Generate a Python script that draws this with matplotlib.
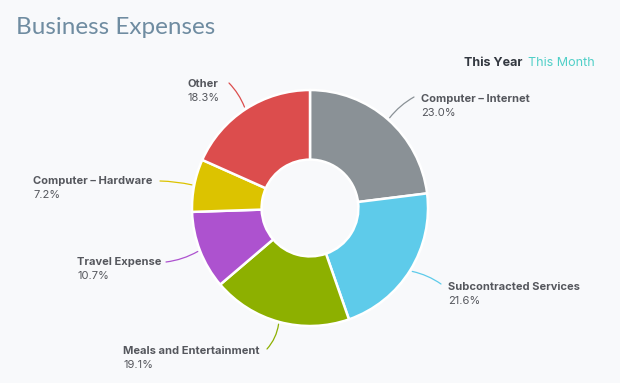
import numpy as np
import matplotlib
matplotlib.use("Agg")
import matplotlib.pyplot as plt

categories = ["Computer – Internet", "Subcontracted Services", "Meals and Entertainment",
              "Travel Expense", "Computer – Hardware", "Other"]
values = [23.0, 21.6, 19.1, 10.7, 7.2, 18.3]
colors = ["#8a9196", "#5ecbea", "#8db000", "#ad52cf", "#dcc300", "#dc4d4d"]
# label text anchor (left x, name-line y) in pixel layout, and leader curvature
label_pos = [(421, 99), (448, 287), (123, 351), (77, 262), (33, 181), (188, 84)]
line_end = [(414, 97), (441, 284), (267, 349), (166, 262), (160, 181), (229, 83)]
line_rad = [0.1, 0.1, 0.15, 0.1, -0.05, -0.1]

W, H = 620, 383
BG = "#f8f9fb"
fig = plt.figure(figsize=(W / 100, H / 100), dpi=100, facecolor=BG)

def fx(x, y):
    return (x / W, 1 - y / H)

cx, cy, R = 310, 208, 118
ax = fig.add_axes([(cx - R) / W, (H - cy - R) / H, 2 * R / W, 2 * R / H])
ax.set_facecolor(BG)

wedges, _ = ax.pie(values, colors=colors, startangle=90, counterclock=False, radius=1,
                   wedgeprops=dict(width=0.59, edgecolor="white", linewidth=1.8))
ax.set_xlim(-1, 1)
ax.set_ylim(-1, 1)
ax.set_aspect("equal")
ax.axis("off")

fig.text(*fx(16, 28), "Business Expenses", fontsize=17.5, color="#6f8ca1",
         family="Lato", va="center", ha="left")
fig.text(*fx(464, 63), "This Year", fontsize=9, color="#333840", fontweight="bold",
         family="Inter", va="center", ha="left")
fig.text(*fx(528, 63), "This Month", fontsize=9, color="#4fcfc7",
         family="Inter", va="center", ha="left")

fig.canvas.draw()
inv = ax.transData.inverted()
for w, name, v, c, (lx, ly), (ex, ey), rad in zip(wedges, categories, values, colors,
                                                   label_pos, line_end, line_rad):
    ang = np.deg2rad((w.theta1 + w.theta2) / 2)
    sx, sy = 1.02 * np.cos(ang), 1.02 * np.sin(ang)
    endpix = fig.transFigure.transform(fx(ex, ey))
    dx, dy = inv.transform(endpix)
    ax.annotate("", xy=(sx, sy), xytext=(dx, dy), annotation_clip=False,
                arrowprops=dict(arrowstyle="-", color=c, lw=0.9,
                                connectionstyle=f"arc3,rad={rad}",
                                shrinkA=0, shrinkB=0))
    fig.text(*fx(lx, ly), name, fontsize=8, color="#55575d", fontweight="bold",
             family="Inter", va="center", ha="left")
    fig.text(*fx(lx, ly + 14), f"{v:.1f}%", fontsize=8, color="#55575d",
             family="Inter", va="center", ha="left")

fig.savefig("out.png", dpi=100, facecolor=BG)
